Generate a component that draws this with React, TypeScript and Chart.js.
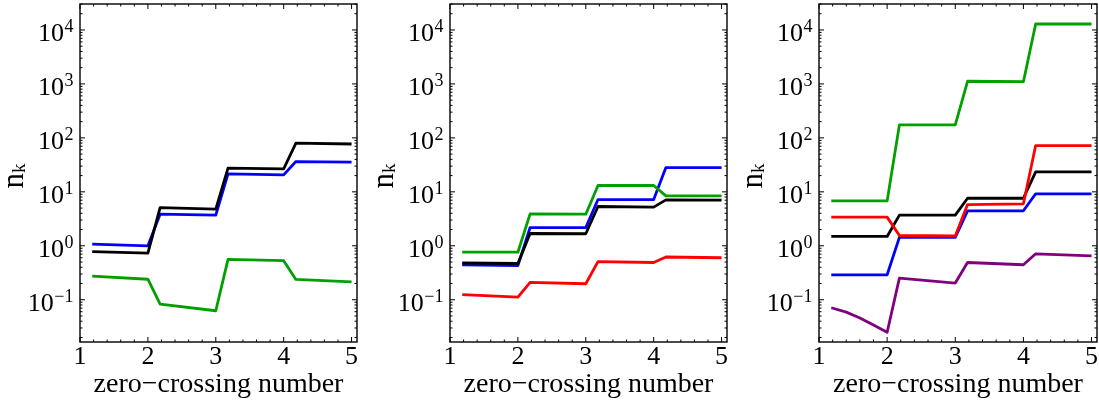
import React, { useEffect, useRef } from "react";
import { Chart, registerables } from "chart.js";

Chart.register(...registerables);

// ---- data ----
const xPoints = [1.18, 2, 2.18, 3, 3.18, 4, 4.18, 5];
const purpleX = [1.18, 1.4, 1.6, 1.8, 2, 2.18, 3, 3.18, 4, 4.18, 5];

const p1Black = [0.78, 0.73, 5.1, 4.8, 27.5, 26.7, 80, 77];
const p1Blue = [1.07, 1.0, 3.86, 3.7, 21.5, 20.6, 36.4, 35.5];
const p1Green = [0.275, 0.24, 0.083, 0.0625, 0.56, 0.53, 0.238, 0.215];

const p2Green = [0.76, 0.76, 3.9, 3.85, 13.1, 13.1, 8.4, 8.4];
const p2Blue = [0.445, 0.43, 2.18, 2.18, 7.2, 7.2, 28.2, 28.2];
const p2Black = [0.48, 0.47, 1.69, 1.67, 5.35, 5.2, 7.1, 7.0];
const p2Red = [0.124, 0.112, 0.21, 0.198, 0.51, 0.49, 0.62, 0.6];

const p3Green = [6.8, 6.8, 174, 174, 1120, 1100, 12900, 12900];
const p3Red = [3.4, 3.4, 1.55, 1.52, 5.8, 6.0, 72, 72];
const p3Black = [1.49, 1.49, 3.7, 3.7, 7.6, 7.6, 23.4, 23.4];
const p3Blue = [0.29, 0.29, 1.43, 1.43, 4.45, 4.45, 9.2, 9.2];
const p3Purple = [0.071, 0.059, 0.046, 0.034, 0.025, 0.252, 0.204, 0.49, 0.445, 0.71, 0.65];

const xTickValues = [1, 2, 3, 4, 5];
const xTickLabels = ["1", "2", "3", "4", "5"];
const yTickValues = [0.1, 1, 10, 100, 1000, 10000];
const yTickExponents = ["\u22121", "0", "1", "2", "3", "4"];

const xTitle = "zero\u2212crossing number";
const yTitleMain = "n";
const yTitleSub = "k";

const X_MIN = 1;
const X_MAX = 5.08;
const Y_MIN = 0.01648;
const Y_MAX = 30270;

const COLORS = {
  black: "#000000",
  blue: "#0000ff",
  green: "#00a000",
  red: "#ff0000",
  purple: "#800080",
};

const FONT = '"Liberation Serif", "Times New Roman", serif';

type Series = { xs: number[]; ys: number[]; color: string };

const toPoints = (xs: number[], ys: number[]) => xs.map((x, i) => ({ x, y: ys[i] }));

const axesPlugin = {
  id: "mmaAxes",
  afterDraw(chart: any) {
    const { ctx, chartArea: a, scales } = chart;
    const xs = scales.x;
    const ys = scales.y;
    ctx.save();
    ctx.strokeStyle = "#000";
    ctx.fillStyle = "#000";
    ctx.lineWidth = 1;
    const line = (x1: number, y1: number, x2: number, y2: number) => {
      ctx.beginPath();
      ctx.moveTo(x1, y1);
      ctx.lineTo(x2, y2);
      ctx.stroke();
    };
    const MAJ = 5;
    const MIN = 2.5;
    for (let i = 5; i <= 25; i++) {
      const v = i / 5;
      if (v > X_MAX) break;
      const px = xs.getPixelForValue(v);
      const len = i % 5 === 0 ? MAJ : MIN;
      line(px, a.bottom, px, a.bottom - len);
      line(px, a.top, px, a.top + len);
    }
    for (let k = -2; k <= 4; k++) {
      for (let m = 1; m <= 9; m++) {
        const v = m * Math.pow(10, k);
        if (v < Y_MIN || v > Y_MAX) continue;
        const py = ys.getPixelForValue(v);
        const len = m === 1 ? MAJ : MIN;
        line(a.left, py, a.left + len, py);
        line(a.right, py, a.right - len, py);
      }
    }
    ctx.lineWidth = 1.4;
    ctx.strokeRect(a.left, a.top, a.right - a.left, a.bottom - a.top);

    // x tick labels
    ctx.font = `26px ${FONT}`;
    ctx.textAlign = "center";
    ctx.textBaseline = "alphabetic";
    xTickValues.forEach((v, i) => {
      ctx.fillText(xTickLabels[i], xs.getPixelForValue(v), a.bottom + 22);
    });

    // y tick labels 10^k
    const rightEdge = a.left - 6.5;
    yTickValues.forEach((v, i) => {
      const py = ys.getPixelForValue(v);
      ctx.font = `18px ${FONT}`;
      const sup = yTickExponents[i];
      const sw = ctx.measureText(sup).width;
      ctx.textAlign = "left";
      ctx.fillText(sup, rightEdge - sw, py + 2.5);
      ctx.font = `26px ${FONT}`;
      ctx.textAlign = "right";
      ctx.fillText("10", rightEdge - sw - 0.5, py + 11);
    });

    // x title
    ctx.font = `28px ${FONT}`;
    ctx.textAlign = "center";
    ctx.fillText(xTitle, (a.left + a.right) / 2, a.bottom + 50);

    // y title n_k
    ctx.translate(a.left - 57, (a.top + a.bottom) / 2 + 3);
    ctx.rotate(-Math.PI / 2);
    ctx.font = `31px ${FONT}`;
    const wn = ctx.measureText(yTitleMain).width;
    ctx.font = `19px ${FONT}`;
    const wk = ctx.measureText(yTitleSub).width;
    const start = -(wn + wk) / 2;
    ctx.textAlign = "left";
    ctx.font = `31px ${FONT}`;
    ctx.fillText(yTitleMain, start, 0);
    ctx.font = `19px ${FONT}`;
    ctx.fillText(yTitleSub, start + wn, 2);
    ctx.restore();
  },
};

function Panel({ left, width, padRight, series }: { left: number; width: number; padRight: number; series: Series[] }) {
  const ref = useRef<HTMLCanvasElement | null>(null);
  useEffect(() => {
    if (!ref.current) return;
    const chart = new Chart(ref.current, {
      type: "line",
      data: {
        datasets: series.map((s) => ({
          data: toPoints(s.xs, s.ys),
          borderColor: s.color,
          backgroundColor: s.color,
          borderWidth: 2.8,
          pointRadius: 0,
          tension: 0,
          fill: false,
          borderJoinStyle: "round",
        })),
      },
      options: {
        animation: false,
        responsive: true,
        maintainAspectRatio: false,
        layout: { padding: { top: 4, right: padRight, left: 0, bottom: 0 } },
        plugins: { legend: { display: false }, tooltip: { enabled: false } },
        events: [],
        scales: {
          x: {
            type: "linear",
            min: X_MIN,
            max: X_MAX,
            grid: { display: false },
            border: { display: false },
            ticks: { display: false },
            afterFit: (s: any) => {
              s.height = 60;
            },
          },
          y: {
            type: "logarithmic",
            min: Y_MIN,
            max: Y_MAX,
            grid: { display: false },
            border: { display: false },
            ticks: { display: false },
            afterFit: (s: any) => {
              s.width = 80;
            },
          },
        },
      } as any,
      plugins: [axesPlugin],
    });
    return () => chart.destroy();
  }, []);
  return (
    <div style={{ position: "absolute", left, top: 0, width, height: 402 }}>
      <canvas ref={ref} />
    </div>
  );
}

const panel1: Series[] = [
  { xs: xPoints, ys: p1Black, color: COLORS.black },
  { xs: xPoints, ys: p1Blue, color: COLORS.blue },
  { xs: xPoints, ys: p1Green, color: COLORS.green },
];
const panel2: Series[] = [
  { xs: xPoints, ys: p2Green, color: COLORS.green },
  { xs: xPoints, ys: p2Black, color: COLORS.black },
  { xs: xPoints, ys: p2Blue, color: COLORS.blue },
  { xs: xPoints, ys: p2Red, color: COLORS.red },
];
const panel3: Series[] = [
  { xs: xPoints, ys: p3Red, color: COLORS.red },
  { xs: xPoints, ys: p3Black, color: COLORS.black },
  { xs: xPoints, ys: p3Blue, color: COLORS.blue },
  { xs: xPoints, ys: p3Green, color: COLORS.green },
  { xs: purpleX, ys: p3Purple, color: COLORS.purple },
];

export default function App() {
  return (
    <div style={{ position: "absolute", left: 0, top: 0, width: 1099, height: 402, background: "#fff" }}>
      <Panel left={0} width={362} padRight={5} series={panel1} />
      <Panel left={370} width={362} padRight={5} series={panel2} />
      <Panel left={739} width={360} padRight={2} series={panel3} />
    </div>
  );
}
